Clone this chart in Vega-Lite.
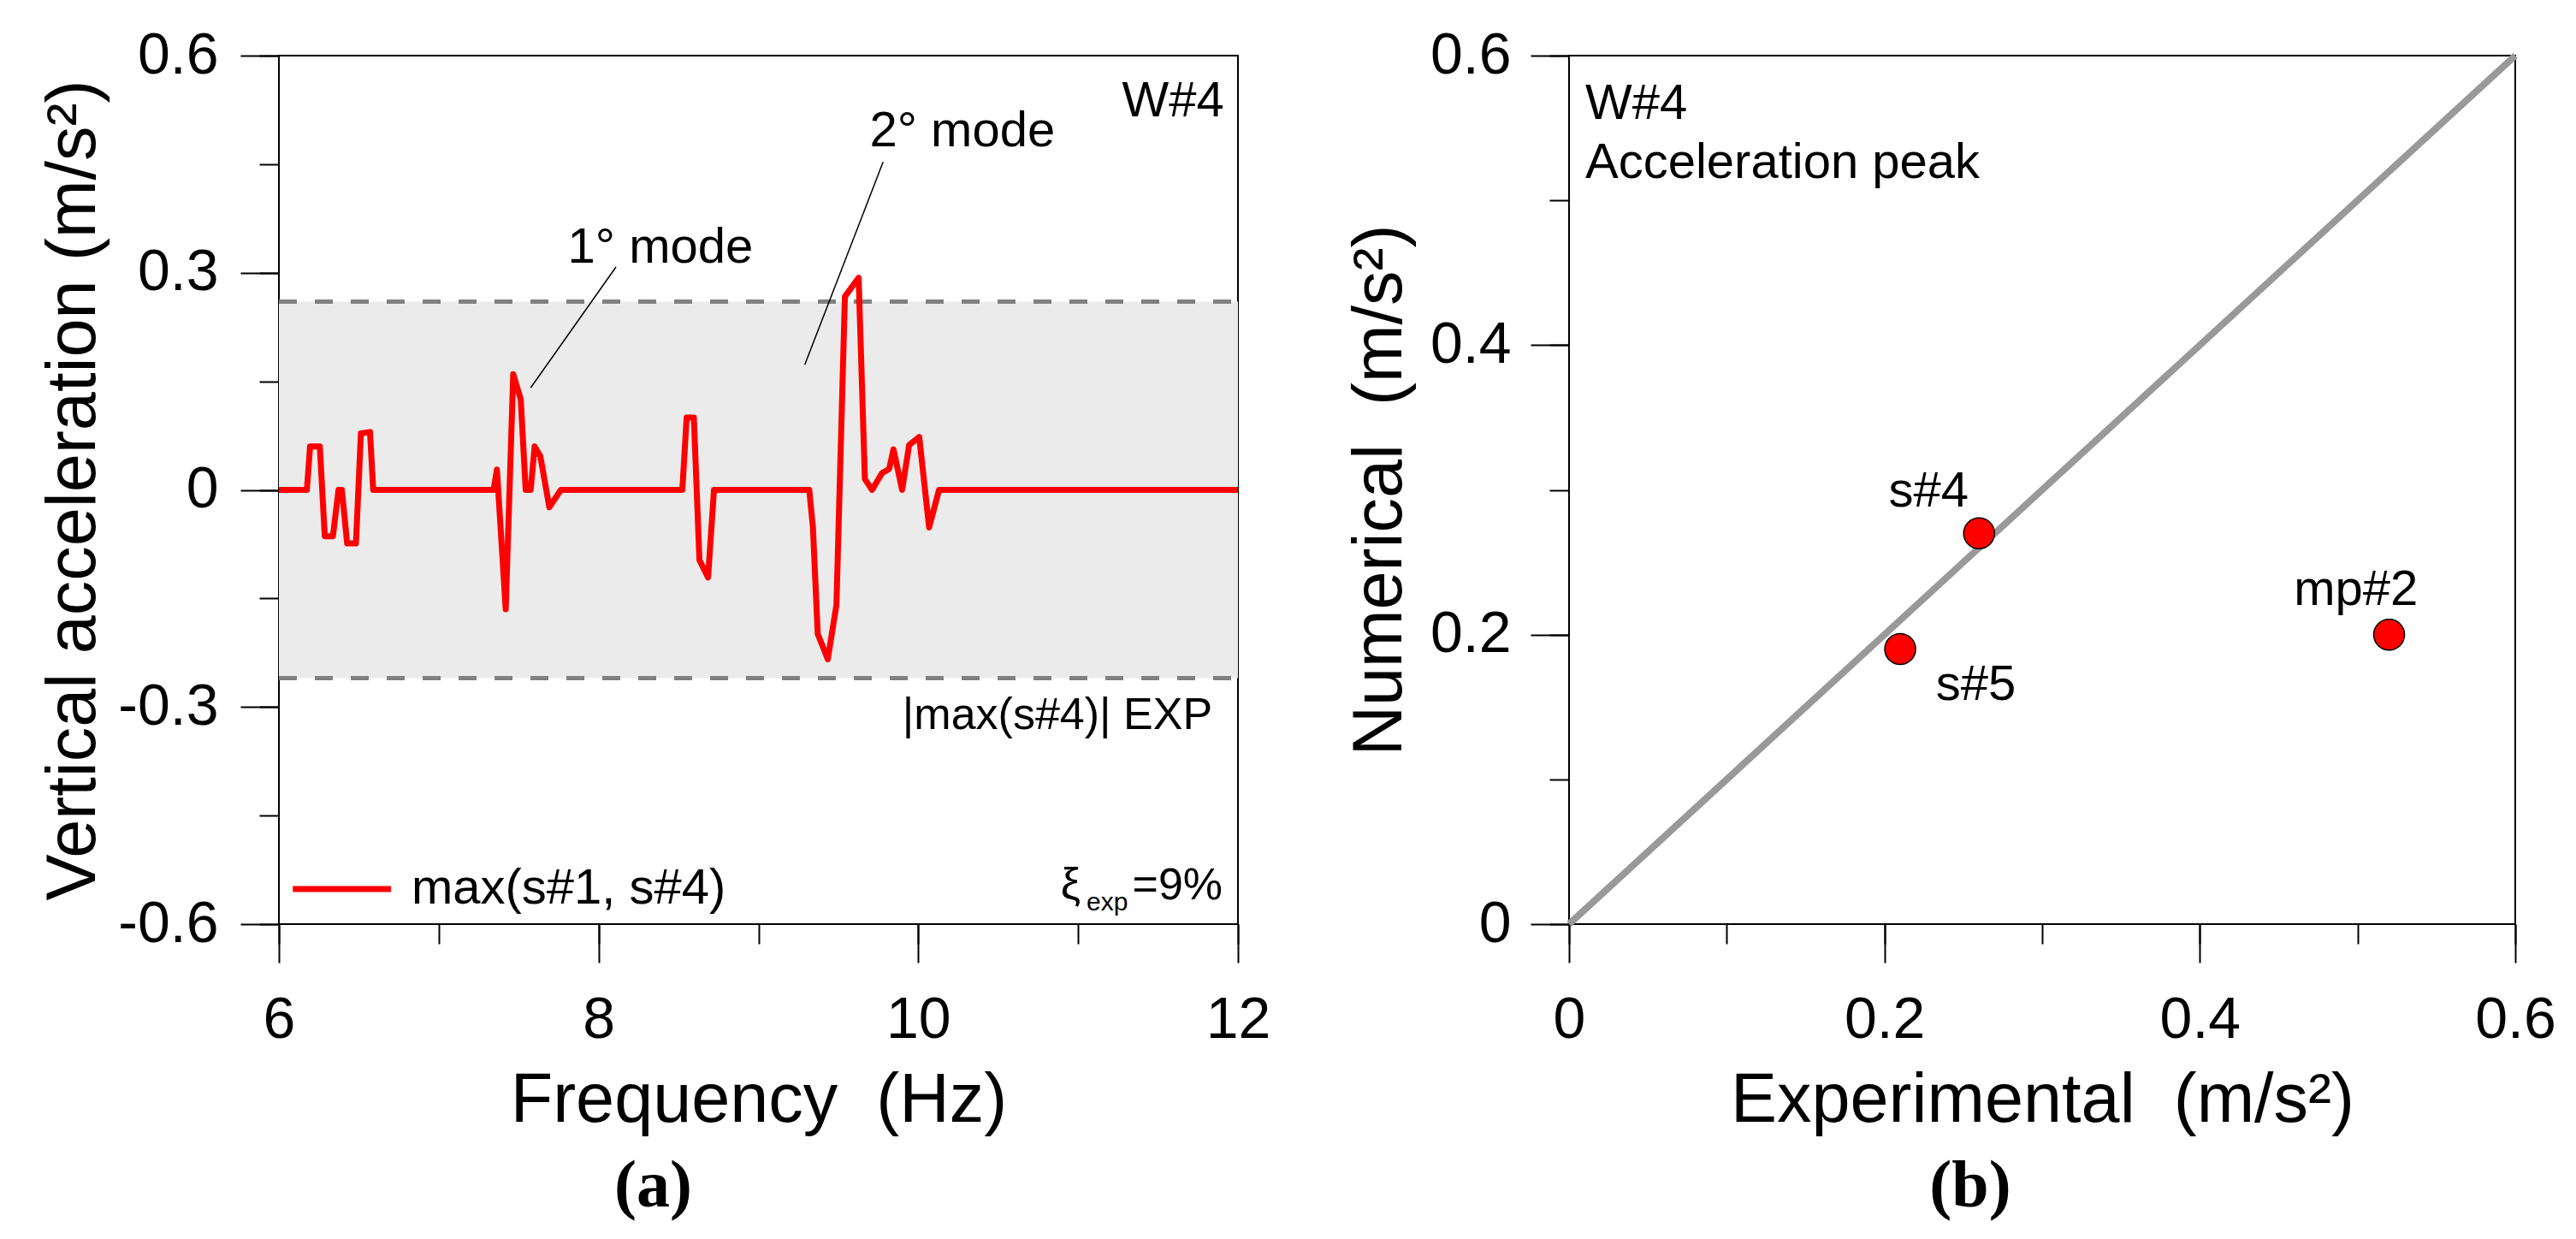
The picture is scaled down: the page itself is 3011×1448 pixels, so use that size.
{
  "$schema": "https://vega.github.io/schema/vega-lite/v6.json",
  "padding": {"left": 44, "top": 30, "right": 5, "bottom": 5},
  "spacing": 85,
  "config": {
    "view": {"stroke": "black", "strokeWidth": 2},
    "font": "Liberation Sans",
    "axis": {
      "domain": false, "grid": false,
      "tickColor": "black", "tickWidth": 2,
      "labelColor": "black", "labelFont": "Liberation Sans", "labelFontSize": 68,
      "labelFlush": false, "labelOverlap": false,
      "titleFont": "Liberation Sans", "titleFontSize": 81, "titleFontWeight": "normal", "titleColor": "black"
    },
    "text": {"font": "Liberation Sans", "fontSize": 58, "color": "black"}
  },
  "hconcat": [
    {
      "width": 1121,
      "height": 1015,
      "title": {"text": "(a)", "orient": "bottom", "anchor": "middle", "font": "Liberation Serif", "fontSize": 78, "fontWeight": "bold", "color": "black", "offset": 22, "dx": -123},
      "encoding": {
        "x": {"field": "x", "type": "quantitative", "scale": {"domain": [6, 12], "nice": false, "zero": false}, "axis": null},
        "y": {"field": "y", "type": "quantitative", "scale": {"domain": [-0.6, 0.6], "nice": false, "zero": false}, "axis": null}
      },
      "layer": [
        {
          "data": {"values": [{"x": 6, "x2": 12, "y": -0.26, "y2": 0.26}]},
          "mark": {"type": "rect", "fill": "#ebebeb"},
          "encoding": {
            "x": {"field": "x", "type": "quantitative", "scale": {"domain": [6, 12], "nice": false, "zero": false},
                  "axis": {"orient": "bottom", "values": [6, 7, 8, 9, 10, 11, 12], "tickSize": 23, "labels": false, "title": null}},
            "x2": {"field": "x2"},
            "y": {"field": "y", "type": "quantitative", "scale": {"domain": [-0.6, 0.6], "nice": false, "zero": false},
                  "axis": {"orient": "left", "values": [-0.6, -0.45, -0.3, -0.15, 0, 0.15, 0.3, 0.45, 0.6], "tickSize": 23, "labels": false, "title": null}},
            "y2": {"field": "y2"}
          }
        },
        {
          "data": {"values": [{"x": 6, "x2": 12, "y": 0.26}, {"x": 6, "x2": 12, "y": -0.26}]},
          "mark": {"type": "rule", "color": "#808080", "strokeWidth": 5, "strokeDash": [21, 21]},
          "encoding": {"x2": {"field": "x2"}}
        },
        {
          "data": {"values": [
            {"x": 7.575, "y": 0.141, "x2": 8.109, "y2": 0.308},
            {"x": 9.29, "y": 0.173, "x2": 9.78, "y2": 0.453}
          ]},
          "mark": {"type": "rule", "color": "black", "strokeWidth": 1.5},
          "encoding": {"x2": {"field": "x2"}, "y2": {"field": "y2"}}
        },
        {
          "data": {"values": [
            {"frequency": 6, "acceleration": 0},
            {"frequency": 6.175, "acceleration": 0},
            {"frequency": 6.195, "acceleration": 0.06},
            {"frequency": 6.256, "acceleration": 0.06},
            {"frequency": 6.287, "acceleration": -0.064},
            {"frequency": 6.338, "acceleration": -0.064},
            {"frequency": 6.373, "acceleration": 0},
            {"frequency": 6.394, "acceleration": 0},
            {"frequency": 6.427, "acceleration": -0.074},
            {"frequency": 6.482, "acceleration": -0.074},
            {"frequency": 6.513, "acceleration": 0.078},
            {"frequency": 6.57, "acceleration": 0.08},
            {"frequency": 6.59, "acceleration": 0},
            {"frequency": 7.343, "acceleration": 0},
            {"frequency": 7.364, "acceleration": 0.028},
            {"frequency": 7.419, "acceleration": -0.165},
            {"frequency": 7.466, "acceleration": 0.16},
            {"frequency": 7.513, "acceleration": 0.125},
            {"frequency": 7.544, "acceleration": 0},
            {"frequency": 7.575, "acceleration": 0},
            {"frequency": 7.6, "acceleration": 0.06},
            {"frequency": 7.636, "acceleration": 0.046},
            {"frequency": 7.692, "acceleration": -0.024},
            {"frequency": 7.764, "acceleration": 0},
            {"frequency": 8.524, "acceleration": 0},
            {"frequency": 8.551, "acceleration": 0.1},
            {"frequency": 8.596, "acceleration": 0.1},
            {"frequency": 8.631, "acceleration": -0.097},
            {"frequency": 8.685, "acceleration": -0.121},
            {"frequency": 8.722, "acceleration": 0},
            {"frequency": 9.318, "acceleration": 0},
            {"frequency": 9.341, "acceleration": -0.052},
            {"frequency": 9.371, "acceleration": -0.199},
            {"frequency": 9.434, "acceleration": -0.234},
            {"frequency": 9.488, "acceleration": -0.159},
            {"frequency": 9.541, "acceleration": 0.267},
            {"frequency": 9.627, "acceleration": 0.293},
            {"frequency": 9.666, "acceleration": 0.015},
            {"frequency": 9.711, "acceleration": 0},
            {"frequency": 9.773, "acceleration": 0.023},
            {"frequency": 9.818, "acceleration": 0.029},
            {"frequency": 9.845, "acceleration": 0.056},
            {"frequency": 9.899, "acceleration": 0},
            {"frequency": 9.943, "acceleration": 0.062},
            {"frequency": 10.006, "acceleration": 0.073},
            {"frequency": 10.068, "acceleration": -0.052},
            {"frequency": 10.13, "acceleration": 0},
            {"frequency": 12, "acceleration": 0}
          ]},
          "mark": {"type": "line", "color": "#ff0000", "strokeWidth": 7, "strokeJoin": "round"},
          "encoding": {
            "x": {"field": "frequency", "type": "quantitative", "scale": {"domain": [6, 12], "nice": false, "zero": false},
                  "axis": {"orient": "bottom", "values": [6, 8, 10, 12], "tickSize": 45, "labelPadding": 33, "title": "Frequency\u00a0 (Hz)", "titlePadding": 20}},
            "y": {"field": "acceleration", "type": "quantitative", "scale": {"domain": [-0.6, 0.6], "nice": false, "zero": false},
                  "axis": {"orient": "left", "values": [-0.6, -0.3, 0, 0.3, 0.6], "tickSize": 45, "labelPadding": 26,
                           "labelExpr": "datum.value == 0 ? '0' : (datum.value < 0 ? '-' : '') + format(abs(datum.value), '.1f')",
                           "title": "Vertical acceleration (m/s²)", "titlePadding": 10}}
          }
        },
        {
          "data": {"values": [{"x": 6.087, "x2": 6.701, "y": -0.5515}]},
          "mark": {"type": "rule", "color": "#ff0000", "strokeWidth": 7},
          "encoding": {"x2": {"field": "x2"}}
        },
        {
          "data": {"values": [{"x": 6.829, "y": -0.5515, "label": "max(s#1, s#4)"}]},
          "mark": {"type": "text", "align": "left", "baseline": "middle", "fontSize": 58},
          "encoding": {"text": {"field": "label"}}
        },
        {
          "data": {"values": [
            {"x": 7.807, "y": 0.314, "label": "1° mode"},
            {"x": 9.696, "y": 0.4745, "label": "2° mode"}
          ]},
          "mark": {"type": "text", "align": "left", "baseline": "alphabetic", "fontSize": 58},
          "encoding": {"text": {"field": "label"}}
        },
        {
          "data": {"values": [{"x": 11.913, "y": 0.516, "label": "W#4"}]},
          "mark": {"type": "text", "align": "right", "baseline": "alphabetic", "fontSize": 58},
          "encoding": {"text": {"field": "label"}}
        },
        {
          "data": {"values": [{"x": 9.901, "y": -0.33, "label": "|max(s#4)| EXP"}]},
          "mark": {"type": "text", "align": "left", "baseline": "alphabetic", "fontSize": 52},
          "encoding": {"text": {"field": "label"}}
        },
        {
          "data": {"values": [
            {"x": 11.015, "y": -0.5657, "label": "ξ"},
            {"x": 11.904, "y": -0.5657, "label": "=9%"}
          ]},
          "mark": {"type": "text", "align": "right", "baseline": "alphabetic", "fontSize": 52},
          "encoding": {"text": {"field": "label"}}
        },
        {
          "data": {"values": [{"x": 11.053, "y": -0.581, "label": "exp"}]},
          "mark": {"type": "text", "align": "left", "baseline": "alphabetic", "fontSize": 30},
          "encoding": {"text": {"field": "label"}}
        }
      ],
      "resolve": {"axis": {"x": "independent", "y": "independent"}}
    },
    {
      "width": 1106,
      "height": 1015,
      "title": {"text": "(b)", "orient": "bottom", "anchor": "middle", "font": "Liberation Serif", "fontSize": 78, "fontWeight": "bold", "color": "black", "offset": 22, "dx": -84},
      "encoding": {
        "x": {"field": "x", "type": "quantitative", "scale": {"domain": [0, 0.6], "nice": false, "zero": false}, "axis": null},
        "y": {"field": "y", "type": "quantitative", "scale": {"domain": [0, 0.6], "nice": false, "zero": false}, "axis": null}
      },
      "layer": [
        {
          "data": {"values": [{"x": 0, "y": 0, "x2": 0.6, "y2": 0.6}]},
          "mark": {"type": "rule", "color": "#999999", "strokeWidth": 8},
          "encoding": {
            "x": {"field": "x", "type": "quantitative", "scale": {"domain": [0, 0.6], "nice": false, "zero": false},
                  "axis": {"orient": "bottom", "values": [0, 0.1, 0.2, 0.3, 0.4, 0.5, 0.6], "tickSize": 23, "labels": false, "title": null}},
            "x2": {"field": "x2"},
            "y": {"field": "y", "type": "quantitative", "scale": {"domain": [0, 0.6], "nice": false, "zero": false},
                  "axis": {"orient": "left", "values": [0, 0.1, 0.2, 0.3, 0.4, 0.5, 0.6], "tickSize": 23, "labels": false, "title": null}},
            "y2": {"field": "y2"}
          }
        },
        {
          "data": {"values": [
            {"experimental": 0.26, "numerical": 0.27, "sensor": "s#4"},
            {"experimental": 0.21, "numerical": 0.19, "sensor": "s#5"},
            {"experimental": 0.52, "numerical": 0.2, "sensor": "mp#2"}
          ]},
          "mark": {"type": "point", "shape": "circle", "filled": true, "size": 1300, "fill": "#ff0000", "stroke": "black", "strokeWidth": 1.5, "opacity": 1},
          "encoding": {
            "x": {"field": "experimental", "type": "quantitative", "scale": {"domain": [0, 0.6], "nice": false, "zero": false},
                  "axis": {"orient": "bottom", "values": [0, 0.2, 0.4, 0.6], "tickSize": 45, "labelPadding": 33,
                           "labelExpr": "datum.value == 0 ? '0' : format(datum.value, '.1f')",
                           "title": "Experimental\u00a0 (m/s²)", "titlePadding": 20}},
            "y": {"field": "numerical", "type": "quantitative", "scale": {"domain": [0, 0.6], "nice": false, "zero": false},
                  "axis": {"orient": "left", "values": [0, 0.2, 0.4, 0.6], "tickSize": 45, "labelPadding": 23,
                           "labelExpr": "datum.value == 0 ? '0' : format(datum.value, '.1f')",
                           "title": "Numerical\u00a0 (m/s²)", "titlePadding": 17}}
          }
        },
        {
          "data": {"values": [
            {"x": 0.228, "y": 0.2885, "label": "s#4"},
            {"x": 0.258, "y": 0.1549, "label": "s#5"},
            {"x": 0.499, "y": 0.2205, "label": "mp#2"}
          ]},
          "mark": {"type": "text", "align": "center", "baseline": "alphabetic", "fontSize": 58},
          "encoding": {"text": {"field": "label"}}
        },
        {
          "data": {"values": [
            {"x": 0.0103, "y": 0.5563, "label": "W#4"},
            {"x": 0.0103, "y": 0.5155, "label": "Acceleration peak"}
          ]},
          "mark": {"type": "text", "align": "left", "baseline": "alphabetic", "fontSize": 58},
          "encoding": {"text": {"field": "label"}}
        }
      ],
      "resolve": {"axis": {"x": "independent", "y": "independent"}}
    }
  ]
}
